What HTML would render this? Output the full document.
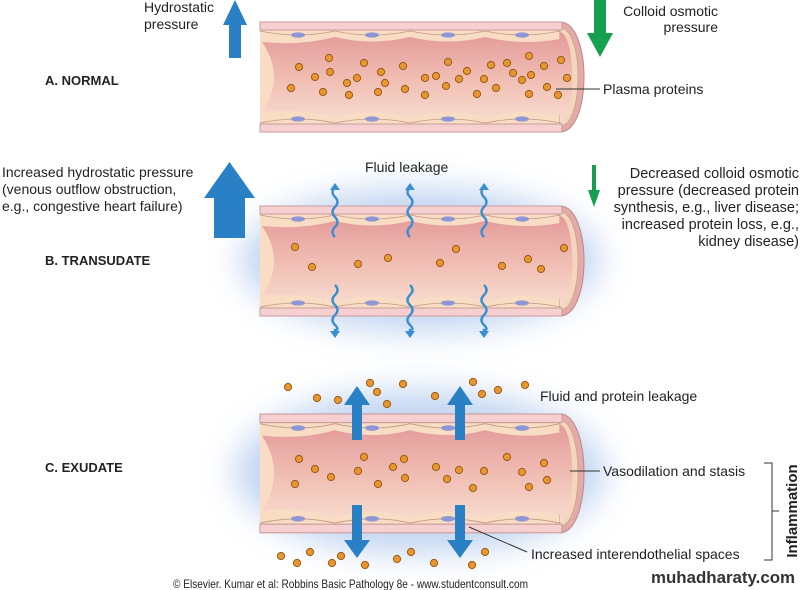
<!DOCTYPE html>
<html><head><meta charset="utf-8">
<style>
html,body{margin:0;padding:0;background:#fff;}
svg{display:block;font-family:"Liberation Sans",Arial,sans-serif;}
</style></head>
<body>
<svg width="800" height="590" viewBox="0 0 800 590" xmlns="http://www.w3.org/2000/svg">
<defs>
<linearGradient id="lum" x1="0" y1="0" x2="0" y2="1">
<stop offset="0" stop-color="#e39a9a"/><stop offset="0.5" stop-color="#f0bcb2"/><stop offset="1" stop-color="#f8dccf"/>
</linearGradient>
<filter id="bl" x="-50%" y="-50%" width="200%" height="200%"><feGaussianBlur stdDeviation="16"/></filter>
<g id="vessel">
  <rect x="0" y="0" width="302" height="110" fill="#f8dcc4"/>
  <path d="M300,0 C332,0 332,110 300,110 Z" fill="#e3aaa8" stroke="#b98a88" stroke-width="1"/>
  <path d="M300,6 C324,6 324,104 300,104 Z" fill="#f3d6bc" stroke="#c9a08a" stroke-width="0.7"/>
  <rect x="0" y="0" width="302" height="8" fill="#f6d0d0" stroke="#c99a9a" stroke-width="1"/>
  <rect x="0" y="102" width="302" height="8" fill="#f6d0d0" stroke="#c99a9a" stroke-width="1"/>
  <path d="M2,20 Q40,24 75,15 Q112,24 150,15 Q188,24 225,15 Q262,24 300,17 L300,10 C316,12 317,98 300,100 L300,93 Q262,86 225,95 Q188,86 150,95 Q112,86 75,95 Q40,86 2,90 Q26,55 2,20 Z" fill="url(#lum)"/>
  <g stroke="#c49a80" stroke-width="0.8" fill="none">
    <path d="M0,9 Q38,17 75,9 M75,9 Q112,17 150,9 M150,9 Q188,17 225,9 M225,9 Q262,17 300,9"/>
    <path d="M0,101 Q38,93 75,101 M75,101 Q112,93 150,101 M150,101 Q188,93 225,101 M225,101 Q262,93 300,101"/>
  </g>
  <g fill="#8e97d6">
    <ellipse cx="38" cy="13" rx="7" ry="2.6"/><ellipse cx="112" cy="13" rx="7" ry="2.6"/><ellipse cx="188" cy="13" rx="7" ry="2.6"/><ellipse cx="262" cy="13" rx="7" ry="2.6"/>
    <ellipse cx="38" cy="97" rx="7" ry="2.6"/><ellipse cx="112" cy="97" rx="7" ry="2.6"/><ellipse cx="188" cy="97" rx="7" ry="2.6"/><ellipse cx="262" cy="97" rx="7" ry="2.6"/>
  </g>
</g>
<circle id="d" r="3.6" fill="#e8962e" stroke="#9a5a18" stroke-width="1"/>
</defs>

<!-- glows -->
<ellipse cx="420" cy="260" rx="180" ry="72" fill="#b4cbee" opacity="0.8" filter="url(#bl)"/>
<ellipse cx="420" cy="472" rx="185" ry="82" fill="#b4cbee" opacity="0.8" filter="url(#bl)"/>

<!-- vessels -->
<use href="#vessel" transform="translate(260,22)"/>
<use href="#vessel" transform="translate(260,206)"/>
<use href="#vessel" transform="translate(260,414) scale(1,1.08)"/>

<!-- dots A -->
<g>
<use href="#d" x="299" y="67"/><use href="#d" x="329" y="58"/><use href="#d" x="330" y="72"/><use href="#d" x="315" y="77"/><use href="#d" x="291" y="88"/><use href="#d" x="323" y="92"/><use href="#d" x="347" y="83"/><use href="#d" x="349" y="95"/><use href="#d" x="357" y="78"/><use href="#d" x="364" y="63"/><use href="#d" x="381" y="72"/><use href="#d" x="385" y="83"/><use href="#d" x="378" y="92"/><use href="#d" x="403" y="66"/><use href="#d" x="405" y="89"/><use href="#d" x="425" y="78"/><use href="#d" x="425" y="95"/><use href="#d" x="436" y="76"/><use href="#d" x="446" y="86"/><use href="#d" x="448" y="62"/><use href="#d" x="459" y="79"/><use href="#d" x="467" y="71"/><use href="#d" x="477" y="94"/><use href="#d" x="484" y="79"/><use href="#d" x="491" y="65"/><use href="#d" x="496" y="88"/><use href="#d" x="507" y="63"/><use href="#d" x="513" y="73"/><use href="#d" x="522" y="80"/><use href="#d" x="529" y="56"/><use href="#d" x="531" y="75"/><use href="#d" x="529" y="94"/><use href="#d" x="544" y="66"/><use href="#d" x="547" y="87"/><use href="#d" x="558" y="95"/><use href="#d" x="561" y="60"/><use href="#d" x="567" y="78"/>
</g>
<!-- dots B -->
<g>
<use href="#d" x="295" y="247"/><use href="#d" x="312" y="267"/><use href="#d" x="358" y="264"/><use href="#d" x="388" y="258"/><use href="#d" x="440" y="263"/><use href="#d" x="456" y="249"/><use href="#d" x="502" y="266"/><use href="#d" x="528" y="259"/><use href="#d" x="541" y="269"/><use href="#d" x="564" y="248"/>
</g>
<!-- dots C -->
<g>
<use href="#d" x="299" y="459"/><use href="#d" x="315" y="469"/><use href="#d" x="295" y="484"/><use href="#d" x="331" y="477"/><use href="#d" x="364" y="457"/><use href="#d" x="358" y="471"/><use href="#d" x="378" y="484"/><use href="#d" x="404" y="459"/><use href="#d" x="393" y="467"/><use href="#d" x="405" y="478"/><use href="#d" x="436" y="467"/><use href="#d" x="447" y="479"/><use href="#d" x="459" y="470"/><use href="#d" x="473" y="488"/><use href="#d" x="484" y="471"/><use href="#d" x="507" y="457"/><use href="#d" x="522" y="472"/><use href="#d" x="529" y="487"/><use href="#d" x="544" y="463"/><use href="#d" x="547" y="480"/>
<use href="#d" x="288" y="387"/><use href="#d" x="317" y="398"/><use href="#d" x="338" y="400"/><use href="#d" x="370" y="383"/><use href="#d" x="377" y="392"/><use href="#d" x="387" y="404"/><use href="#d" x="403" y="384"/><use href="#d" x="435" y="396"/><use href="#d" x="473" y="382"/><use href="#d" x="482" y="394"/><use href="#d" x="498" y="390"/><use href="#d" x="525" y="385"/>
<use href="#d" x="281" y="556"/><use href="#d" x="297" y="563"/><use href="#d" x="310" y="552"/><use href="#d" x="332" y="563"/><use href="#d" x="341" y="556"/><use href="#d" x="365" y="565"/><use href="#d" x="397" y="559"/><use href="#d" x="411" y="552"/><use href="#d" x="434" y="563"/><use href="#d" x="472" y="565"/><use href="#d" x="485" y="552"/>
</g>

<!-- A arrows -->
<path d="M235,0 L247,25 L241,25 L241,58 L229,58 L229,25 L223,25 Z" fill="#2a80c4"/>
<path d="M594,0 L606,0 L606,33 L613,33 L600,57 L587,33 L594,33 Z" fill="#14a04e"/>
<!-- B arrows -->
<path d="M229.5,162 L255,198 L245,198 L245,238 L214,238 L214,198 L204,198 Z" fill="#2a80c4"/>
<path d="M592,165 L596,165 L596,190 L600,190 L594,207 L588,190 L592,190 Z" fill="#14a04e"/>
<!-- wavy arrows -->
<g stroke="#3a8fd2" stroke-width="2.4" fill="none">
<path id="wu" d="M335,237 q-5,-5 0,-10 q5,-5 0,-10 q-5,-5 0,-10 q5,-5 0,-10 q-5,-5 0,-10 L335,188"/>
<use href="#wu" x="75"/><use href="#wu" x="149"/>
<path id="wd" d="M335,285 q5,5 0,10 q-5,5 0,10 q5,5 0,10 q-5,5 0,10 q5,5 0,5 L335,332"/>
<use href="#wd" x="75"/><use href="#wd" x="149"/>
</g>
<g fill="#3a8fd2">
<path d="M330,190 L335,183 L340,190 Z"/><path d="M405,190 L410,183 L415,190 Z"/><path d="M479,190 L484,183 L489,190 Z"/>
<path d="M330,331 L335,338 L340,331 Z"/><path d="M405,331 L410,338 L415,331 Z"/><path d="M479,331 L484,338 L489,331 Z"/>
</g>
<!-- C arrows -->
<g fill="#2a80c4">
<path d="M357,386 L370,405 L362,405 L362,440 L352,440 L352,405 L344,405 Z"/>
<path d="M460,386 L473,405 L465,405 L465,440 L455,440 L455,405 L447,405 Z"/>
<path d="M352,505 L362,505 L362,540 L370,540 L357,558 L344,540 L352,540 Z"/>
<path d="M455,505 L465,505 L465,540 L473,540 L460,558 L447,540 L455,540 Z"/>
</g>

<!-- leader lines -->
<g stroke="#333" stroke-width="1">
<line x1="556" y1="89" x2="600" y2="89"/>
<line x1="570" y1="471" x2="600" y2="471"/>
<line x1="469" y1="527" x2="527" y2="552"/>
<path d="M764,463 L772,463 L772,560 L764,560 M772,511 L779,511" fill="none"/>
</g>

<!-- text -->
<g font-size="14" fill="#222">
<text x="144" y="12">Hydrostatic</text>
<text x="144" y="29">pressure</text>
<text x="718" y="16" text-anchor="end">Colloid osmotic</text>
<text x="718" y="32" text-anchor="end">pressure</text>
<text x="603" y="94">Plasma proteins</text>
<text x="2" y="177">Increased hydrostatic pressure</text>
<text x="2" y="194">(venous outflow obstruction,</text>
<text x="2" y="211">e.g., congestive heart failure)</text>
<text x="365" y="172">Fluid leakage</text>
</g>
<g font-size="14.5" fill="#222">
<text x="799" y="178" text-anchor="end">Decreased colloid osmotic</text>
<text x="799" y="195" text-anchor="end">pressure (decreased protein</text>
<text x="799" y="212" text-anchor="end">synthesis, e.g., liver disease;</text>
<text x="799" y="229" text-anchor="end">increased protein loss, e.g.,</text>
<text x="799" y="246" text-anchor="end">kidney disease)</text>
</g>
<g font-size="14" fill="#222">
<text x="540" y="401">Fluid and protein leakage</text>
<text x="603" y="476">Vasodilation and stasis</text>
<text x="531" y="559">Increased interendothelial spaces</text>
</g>
<g font-size="13" font-weight="bold" fill="#222">
<text x="45" y="85">A. NORMAL</text>
<text x="45" y="265">B. TRANSUDATE</text>
<text x="45" y="472">C. EXUDATE</text>
</g>
<text x="0" y="0" font-size="15" font-weight="bold" fill="#222" text-anchor="middle" transform="translate(797,511) rotate(-90)">Inflammation</text>
<text x="173" y="588" font-size="12" fill="#222" textLength="355" lengthAdjust="spacingAndGlyphs">© Elsevier. Kumar et al: Robbins Basic Pathology 8e - www.studentconsult.com</text>
<text x="651" y="583" font-size="17" font-weight="bold" fill="#333" textLength="144" lengthAdjust="spacingAndGlyphs">muhadharaty.com</text>
</svg>
</body></html>
